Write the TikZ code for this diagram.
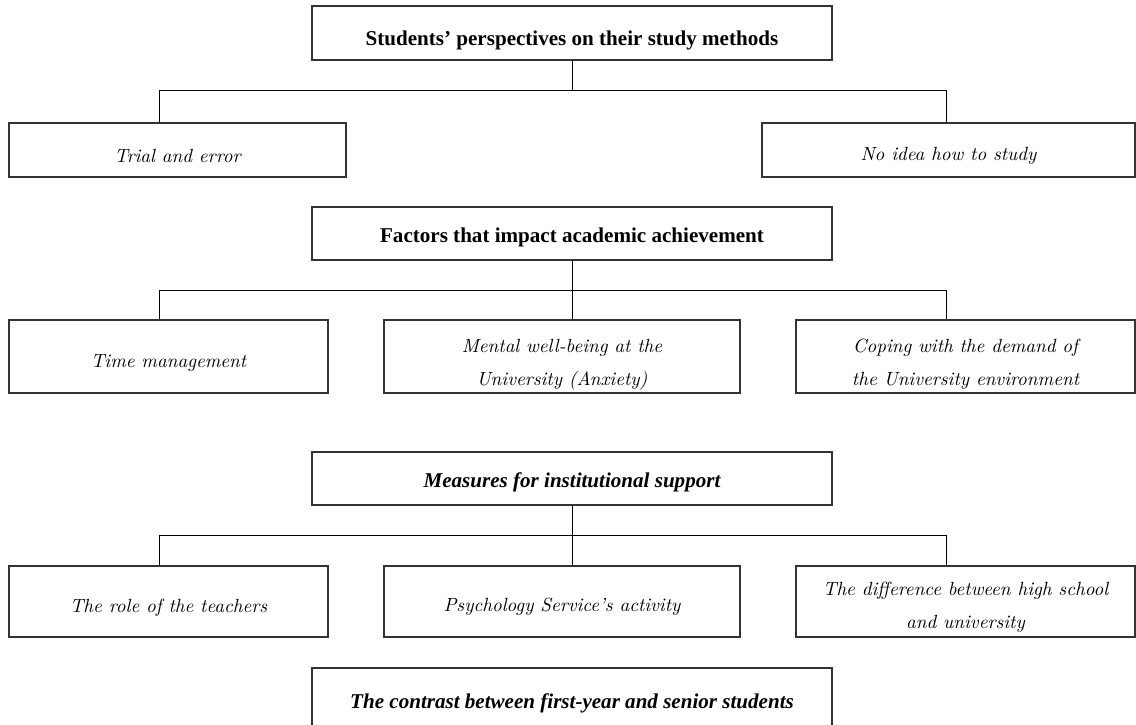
\documentclass[tikz,border=0pt]{standalone}
\usepackage{fontspec}
\setmainfont{Liberation Serif}
\newfontfamily\lmit{lmroman10-italic}[Extension=.otf]
\begin{document}
\begin{tikzpicture}[x=0.75pt,y=-0.75pt,
  frame/.style={draw=black!80,line width=0.9pt,fill=white,inner sep=0pt},
  btxt/.style={align=center,inner sep=0pt,font=\fontsize{15.8}{20}\selectfont\bfseries},
  bitxt/.style={align=center,inner sep=0pt,font=\fontsize{15.8}{20}\selectfont\bfseries\itshape},
  itxt/.style={align=center,inner sep=0pt,font=\fontsize{14.3}{24.5}\selectfont\lmit},
  conn/.style={draw=black,line width=0.75pt}]
\useasboundingbox (0,0) rectangle (1136,725);
% boxes
\node[frame,minimum width=520*0.75pt,minimum height=54*0.75pt] (top) at (572,33) {};
\node[frame,minimum width=337*0.75pt,minimum height=54*0.75pt] (trial) at (177.5,150) {};
\node[frame,minimum width=373*0.75pt,minimum height=54*0.75pt] (noidea) at (948.5,150) {};
\node[frame,minimum width=520*0.75pt,minimum height=53*0.75pt] (factors) at (572,233.5) {};
\node[frame,minimum width=319*0.75pt,minimum height=73*0.75pt] (time) at (168.5,356.5) {};
\node[frame,minimum width=356*0.75pt,minimum height=73*0.75pt] (mental) at (562,356.5) {};
\node[frame,minimum width=339*0.75pt,minimum height=73*0.75pt] (coping) at (965.5,356.5) {};
\node[frame,minimum width=520*0.75pt,minimum height=53*0.75pt] (measures) at (572,478.5) {};
\node[frame,minimum width=319*0.75pt,minimum height=71*0.75pt] (teachers) at (168.5,601.5) {};
\node[frame,minimum width=356*0.75pt,minimum height=71*0.75pt] (psych) at (562,601.5) {};
\node[frame,minimum width=339*0.75pt,minimum height=71*0.75pt] (diff) at (965.5,601.5) {};
\node[frame,minimum width=520*0.75pt,minimum height=58*0.75pt] (contrast) at (572,697) {};
% texts
\node[btxt] (topt) at ([yshift=-5.5pt]top.center) {Students’ perspectives on their study methods};
\node[itxt] (trialt) at ([yshift=-4.5pt]trial.center) {Trial and error};
\node[itxt] (noideat) at ([yshift=-4.5pt]noidea.center) {No idea how to study};
\node[btxt] (factorst) at ([yshift=-3pt]factors.center) {Factors that impact academic achievement};
\node[itxt] (timet) at ([yshift=-4.5pt]time.center) {Time management};
\node[itxt] (mentalt) at ([yshift=-6pt]mental.center) {Mental well-being at the\\University (Anxiety)};
\node[itxt] (copingt) at ([yshift=-6pt]coping.center) {Coping with the demand of\\the University environment};
\node[bitxt] (measurest) at ([yshift=-3pt]measures.center) {Measures for institutional support};
\node[itxt] (teacherst) at ([yshift=-4.75pt]teachers.center) {The role of the teachers};
\node[itxt] (psycht) at ([yshift=-4pt]psych.center) {Psychology Service’s activity};
\node[itxt] (difft) at ([yshift=-4.5pt]diff.center) {The difference between high school\\and university};
\node[bitxt] (contrastt) at ([yshift=-5pt]contrast.center) {The contrast between first-year and senior students};
% connectors level 1
\coordinate (a1) at (159,90);
\coordinate (a2) at (946,90);
\draw[conn] (top.south) -- (top.south |- a1);
\draw[conn] (a1) -- (a2);
\draw[conn] (a1) -- (a1 |- trial.north);
\draw[conn] (a2) -- (a2 |- noidea.north);
% level 2
\coordinate (b1) at (159,290);
\coordinate (b2) at (946,290);
\coordinate (bm) at (572,290);
\draw[conn] (factors.south) -- (bm);
\draw[conn] (b1) -- (b2);
\draw[conn] (b1) -- (b1 |- time.north);
\draw[conn] (bm) -- (bm |- mental.north);
\draw[conn] (b2) -- (b2 |- coping.north);
% level 3
\coordinate (c1) at (159,535);
\coordinate (c2) at (946,535);
\coordinate (cm) at (572,535);
\draw[conn] (measures.south) -- (cm);
\draw[conn] (c1) -- (c2);
\draw[conn] (c1) -- (c1 |- teachers.north);
\draw[conn] (cm) -- (cm |- psych.north);
\draw[conn] (c2) -- (c2 |- diff.north);
\end{tikzpicture}
\end{document}
